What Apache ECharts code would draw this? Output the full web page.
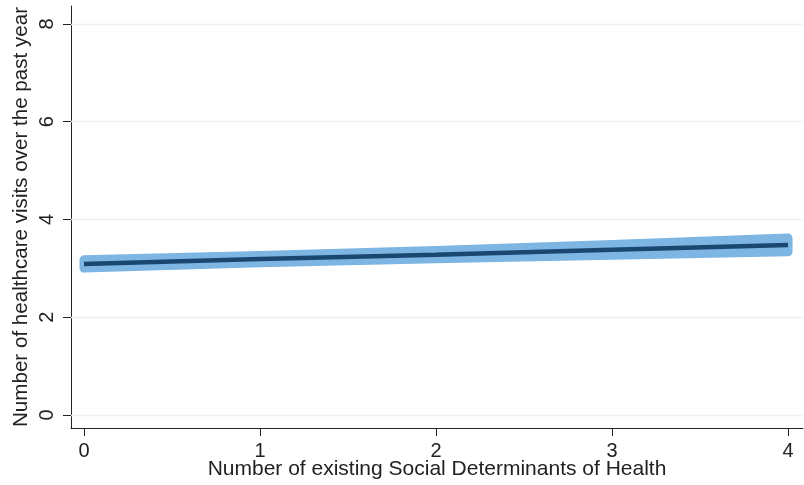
<!DOCTYPE html>
<html>
<head>
<meta charset="utf-8">
<script src="https://cdn.jsdelivr.net/npm/echarts@6/dist/echarts.min.js"></script>
<style>
  html, body { margin: 0; padding: 0; background: #ffffff; }
  #chart { width: 804px; height: 485px; }
</style>
</head>
<body>
<div id="chart"></div>
<script>
// Number of existing Social Determinants of Health
const sdohCounts = [0, 1, 2, 3, 4];
// Predicted number of healthcare visits (linear fit)
const predictedVisits = [3.09, 3.19, 3.28, 3.38, 3.48];
// 95% confidence interval bounds
const ciLower = [3.005, 3.115, 3.195, 3.27, 3.34];
const ciUpper = [3.175, 3.265, 3.365, 3.49, 3.62];
// Axis tick labels
const xTicks = [0, 1, 2, 3, 4];
const yTicks = [0, 2, 4, 6, 8];

const FONT = '"Liberation Sans", Arial, Helvetica, sans-serif';
const AXIS_COLOR = '#222222';
const GRID_COLOR = '#eaf2f3';
const BAND_COLOR = '#7db5e3';
const LINE_COLOR = '#1a476f';

const chart = echarts.init(document.getElementById('chart'), null, { renderer: 'canvas' });

const fitData = sdohCounts.map((x, i) => [x, predictedVisits[i]]);
const bandData = sdohCounts.map((x, i) => [x, ciLower[i], ciUpper[i]]);

chart.setOption({
  animation: false,
  backgroundColor: '#ffffff',
  grid: {
    left: 71, right: 1, top: 6, bottom: 57,
    containLabel: false,
    outerBoundsMode: 'none'
  },
  xAxis: {
    type: 'value',
    min: -0.074,
    max: 4.085,
    name: 'Number of existing Social Determinants of Health',
    nameLocation: 'middle',
    nameGap: 31,
    nameMoveOverlap: false,
    nameTextStyle: { fontFamily: FONT, fontSize: 21, color: AXIS_COLOR },
    axisLine: { show: true, onZero: false, lineStyle: { color: AXIS_COLOR, width: 1 } },
    axisTick: { show: true, length: 8, customValues: xTicks, lineStyle: { color: AXIS_COLOR, width: 1 } },
    axisLabel: { customValues: xTicks, margin: 13, fontFamily: FONT, fontSize: 20, color: AXIS_COLOR },
    splitLine: { show: false }
  },
  yAxis: {
    type: 'value',
    min: -0.266,
    max: 8.368,
    name: 'Number of healthcare visits over the past year',
    nameLocation: 'middle',
    nameGap: 39,
    nameMoveOverlap: false,
    nameRotate: 90,
    nameTextStyle: { fontFamily: FONT, fontSize: 20.6, color: AXIS_COLOR },
    axisLine: { show: true, onZero: false, lineStyle: { color: AXIS_COLOR, width: 1 } },
    axisTick: { show: true, length: 8, customValues: yTicks, lineStyle: { color: AXIS_COLOR, width: 1 } },
    axisLabel: { customValues: yTicks, rotate: 90, margin: 14, fontFamily: FONT, fontSize: 20, color: AXIS_COLOR },
    splitLine: { show: false }
  },
  series: [
    {
      // horizontal grid lines at the y ticks
      type: 'line',
      data: [],
      silent: true,
      z: 1,
      markLine: {
        silent: true,
        symbol: ['none', 'none'],
        label: { show: false },
        lineStyle: { color: GRID_COLOR, width: 1.3, type: 'solid' },
        data: yTicks.map(v => ({ yAxis: v }))
      }
    },
    {
      // confidence band, outlined with a thick rounded stroke
      type: 'custom',
      z: 2,
      clip: false,
      data: bandData,
      renderItem: function (params, api) {
        if (params.dataIndex !== 0) return null;
        const upper = bandData.map(d => api.coord([d[0], d[2]]));
        const lower = bandData.slice().reverse().map(d => api.coord([d[0], d[1]]));
        return {
          type: 'polygon',
          shape: { points: upper.concat(lower) },
          style: {
            fill: BAND_COLOR,
            stroke: BAND_COLOR,
            lineWidth: 9,
            lineJoin: 'round'
          }
        };
      }
    },
    {
      // fitted line
      type: 'line',
      z: 3,
      data: fitData,
      showSymbol: false,
      symbol: 'none',
      lineStyle: { color: LINE_COLOR, width: 4.5, cap: 'butt' }
    }
  ]
});
</script>
</body>
</html>
